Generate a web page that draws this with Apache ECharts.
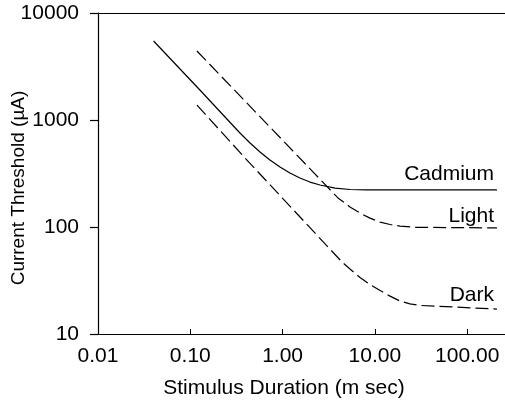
<!DOCTYPE html>
<html>
<head>
<meta charset="utf-8">
<script src="https://cdn.jsdelivr.net/npm/echarts@6/dist/echarts.min.js"></script>
<style>
  html, body { margin: 0; padding: 0; background: #fff; }
  #chart { width: 505px; height: 404px; }
</style>
</head>
<body>
<div id="chart"></div>
<script>
// [duration ms, threshold uA]
const cadmium = [[0.04, 5470], [0.127, 1906], [0.345, 756], [0.444, 610], [0.569, 502],
  [0.729, 423], [0.938, 364], [1.2, 320], [1.54, 287], [1.98, 263], [2.54, 247],
  [3.7, 231], [5.37, 224], [8, 222], [210, 222]];
const light = [[0.118, 4415], [3.98, 187], [5.37, 154], [6.9, 135], [8.85, 121],
  [11.4, 111], [14.6, 105.5], [18.7, 102], [27.2, 99.4], [210, 98]];
const dark = [[0.118, 1380], [0.392, 441], [4.4, 47.1], [5.37, 40.5], [6.9, 33.7],
  [8.85, 29.0], [11.4, 25.5], [14.6, 22.6], [18.7, 20.3], [24.0, 19.1], [30.8, 18.5],
  [210, 17.1]];
const curveNames = ['Cadmium', 'Light', 'Dark'];

const FONT = 'Liberation Sans, Arial, sans-serif';
const chart = echarts.init(document.getElementById('chart'));

const lineSeries = (name, data, dash) => ({
  name: name,
  type: 'line',
  data: data,
  symbol: 'none',
  lineStyle: { color: '#000', width: 1.2, type: dash }
});

const label = (text, x, y, size, align) => ({
  type: 'text', x: x, y: y,
  style: { text: text, fill: '#000', font: size + 'px ' + FONT, align: align, verticalAlign: 'middle' }
});

const option = {
  animation: false,
  grid: { left: 98, top: 13, width: 461.5, height: 321, outerBoundsMode: 'none' },
  xAxis: [
    {
      type: 'log', logBase: 10, min: 0.01, max: 1000,
      axisLine: { lineStyle: { color: '#000', width: 1.2 } },
      axisTick: { inside: true, length: 5, lineStyle: { color: '#000' } },
      axisLabel: {
        color: '#000', fontSize: 21, fontFamily: FONT, margin: 12,
        formatter: v => Number(v).toFixed(2)
      },
      splitLine: { show: false },
      minorTick: { show: false }
    },
    {
      type: 'log', logBase: 10, min: 0.01, max: 1000, position: 'top',
      axisLine: { lineStyle: { color: '#000', width: 1.2 } },
      axisTick: { show: false }, axisLabel: { show: false }, splitLine: { show: false }
    }
  ],
  yAxis: {
    type: 'log', logBase: 10, min: 10, max: 10000,
    axisLine: { show: true, lineStyle: { color: '#000', width: 1.2 } },
    axisTick: { show: true, length: 8, lineStyle: { color: '#000', width: 1.2 } },
    axisLabel: {
      color: '#000', fontSize: 21, fontFamily: FONT, margin: 19,
      formatter: v => String(Math.round(v))
    },
    splitLine: { show: false }
  },
  series: [
    lineSeries(curveNames[0], cadmium, 'solid'),
    lineSeries(curveNames[1], light, [13, 5]),
    lineSeries(curveNames[2], dark, [13, 5])
  ],
  graphic: [
    label(curveNames[0], 494, 174, 21, 'right'),
    label(curveNames[1], 494, 216, 21, 'right'),
    label(curveNames[2], 494, 295, 21, 'right'),
    label('Stimulus Duration (m sec)', 284, 388, 21, 'center'),
    Object.assign(label('Current Threshold (µA)', 19, 188, 19, 'center'), { rotation: Math.PI / 2 })
  ]
};
chart.setOption(option);
</script>
</body>
</html>
